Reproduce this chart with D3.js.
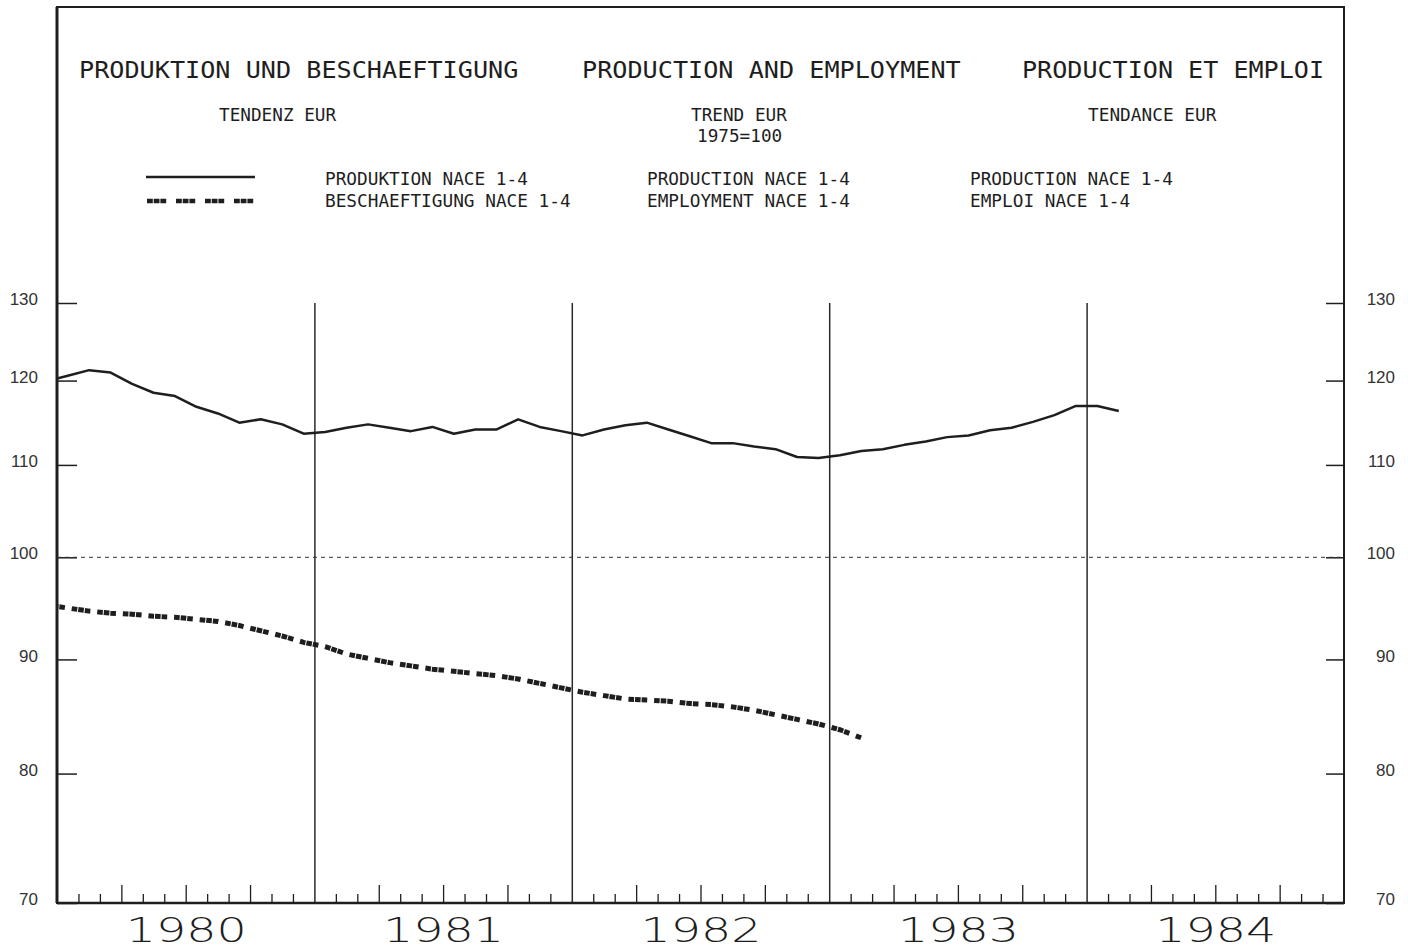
<!DOCTYPE html>
<html>
<head>
<meta charset="utf-8">
<script src="https://cdn.jsdelivr.net/npm/d3@7"></script>
<style>
    body { margin: 0; background: #fff; }
    svg { display: block; }
</style>
</head>
<body>
<div id="chart"></div>
<script>
// chart values (monthly trend, index 1975=100), first value = December 1979
const years = [1980, 1981, 1982, 1983, 1984];
const yTicks = [70, 80, 90, 100, 110, 120, 130];
const production = [
    119.9,
    120.6, 121.3, 121.0, 119.6, 118.5, 118.1, 116.8, 116.0, 114.9, 115.3, 114.7, 113.6,
    113.8, 114.3, 114.7, 114.3, 113.9, 114.4, 113.6, 114.1, 114.1, 115.3, 114.4, 113.9,
    113.4, 114.1, 114.6, 114.9, 114.1, 113.3, 112.5, 112.5, 112.1, 111.8, 110.9, 110.8,
    111.1, 111.6, 111.8, 112.3, 112.7, 113.2, 113.4, 114.0, 114.3, 115.0, 115.8, 116.9,
    116.9, 116.3
];
const employment = [
    95.2,
    94.9, 94.6, 94.4, 94.3, 94.1, 94.0, 93.8, 93.6, 93.2, 92.7, 92.2, 91.6,
    91.2, 90.5, 90.1, 89.7, 89.4, 89.1, 88.9, 88.7, 88.5, 88.2, 87.8, 87.4,
    87.0, 86.7, 86.4, 86.3, 86.2, 86.0, 85.9, 85.7, 85.4, 85.0, 84.6, 84.2,
    83.7, 83.0
];

// set dimensions
const width = 1408,
    height = 949,
    plot = { left: 57, right: 1344, top: 7, bottom: 903, gridTop: 303 };

const ink = "#1e1e1e";
const mono = "'DejaVu Sans Mono', monospace";
const sans = "'Liberation Sans', Arial, sans-serif";

// create svg
const svg = d3.select("#chart")
    .append("svg")
    .attr("width", width)
    .attr("height", height);

svg.append("rect")
    .attr("width", width)
    .attr("height", height)
    .attr("fill", "#fff");

// scales (log scale on the index axis)
const x = d3.scaleLinear()
    .domain([1980, 1985])
    .range([plot.left, plot.right]);

const y = d3.scaleLog()
    .domain([70, 130])
    .range([plot.bottom, plot.gridTop]);

// month i of a series (0 = Dec 1979), plotted mid-month
const monthPos = i => 1979 + (11 + i + 0.5) / 12;

// frame
svg.append("rect")
    .attr("x", plot.left)
    .attr("y", plot.top)
    .attr("width", plot.right - plot.left)
    .attr("height", plot.bottom - plot.top)
    .attr("fill", "none")
    .attr("stroke", ink)
    .attr("stroke-width", 2);

svg.append("line")
    .attr("x1", plot.left).attr("x2", plot.left)
    .attr("y1", plot.top).attr("y2", plot.bottom)
    .attr("stroke", ink)
    .attr("stroke-width", 3);

// text helper: monospace plotter lettering fitted to its width
function label(text, x0, y0, size, charW) {
    svg.append("text")
        .attr("x", x0)
        .attr("y", y0)
        .attr("font-family", mono)
        .attr("font-size", size)
        .attr("fill", ink)
        .attr("textLength", text.length * charW)
        .attr("lengthAdjust", "spacingAndGlyphs")
        .text(text);
}

// titles
label("PRODUKTION UND BESCHAEFTIGUNG", 79, 78, 23, 15.15);
label("PRODUCTION AND EMPLOYMENT", 582, 78, 23, 15.15);
label("PRODUCTION ET EMPLOI", 1022, 78, 23, 15.1);
label("TENDENZ EUR", 219, 121, 17, 10.65);
label("TREND EUR", 691, 121, 17, 10.65);
label("1975=100", 697, 142, 17, 10.65);
label("TENDANCE EUR", 1088, 121, 17, 10.7);

// legend
label("PRODUKTION NACE 1-4", 325, 185, 17, 10.68);
label("BESCHAEFTIGUNG NACE 1-4", 325, 207, 17, 10.68);
label("PRODUCTION NACE 1-4", 647, 185, 17, 10.68);
label("EMPLOYMENT NACE 1-4", 647, 207, 17, 10.68);
label("PRODUCTION NACE 1-4", 970, 185, 17, 10.68);
label("EMPLOI NACE 1-4", 970, 207, 17, 10.68);

svg.append("line")
    .attr("x1", 146).attr("x2", 255)
    .attr("y1", 177).attr("y2", 177)
    .attr("stroke", ink)
    .attr("stroke-width", 2.5);

svg.append("line")
    .attr("x1", 147).attr("x2", 255)
    .attr("y1", 201).attr("y2", 201)
    .attr("stroke", ink)
    .attr("stroke-width", 4.5)
    .attr("stroke-dasharray", "5.8,0.9,5.8,0.9,5.8,9.8");

// y axes
const yAxisLeft = d3.axisLeft(y)
    .tickValues(yTicks)
    .tickFormat(d3.format("d"))
    .tickSizeInner(-20)
    .tickSizeOuter(0)
    .tickPadding(19);

const gl = svg.append("g")
    .attr("transform", `translate(${plot.left},0)`)
    .call(yAxisLeft);

const yAxisRight = d3.axisRight(y)
    .tickValues(yTicks)
    .tickFormat(d3.format("d"))
    .tickSizeInner(-18)
    .tickSizeOuter(0)
    .tickPadding(51);

const gr = svg.append("g")
    .attr("transform", `translate(${plot.right},0)`)
    .call(yAxisRight);

[gl, gr].forEach(g => {
    g.select(".domain").remove();
    g.selectAll("line").attr("stroke", ink).attr("stroke-width", 1.5);
    g.selectAll("text")
        .attr("font-family", sans)
        .attr("font-size", 17)
        .attr("fill", "#333")
        .attr("dy", "0.1em");
});
gr.selectAll("text").attr("text-anchor", "end");

// 100 reference line
svg.append("line")
    .attr("x1", plot.left).attr("x2", plot.right)
    .attr("y1", y(100)).attr("y2", y(100))
    .attr("stroke", "#333")
    .attr("stroke-width", 1)
    .attr("stroke-dasharray", "4,4");

// year separators
const grid = d3.axisBottom(x)
    .tickValues(years.slice(1))
    .tickSize(-(plot.bottom - plot.gridTop))
    .tickFormat("");

svg.append("g")
    .attr("transform", `translate(0,${plot.bottom})`)
    .call(grid)
    .call(g => g.select(".domain").remove())
    .selectAll("line")
    .attr("stroke", "#2a2a2a")
    .attr("stroke-width", 1.5);

// monthly ticks on the time axis, quarters taller
const monthTicks = d3.range(1, 60)
    .filter(m => m % 12 !== 0)
    .map(m => 1980 + m / 12);

svg.append("g")
    .attr("transform", `translate(0,${plot.bottom})`)
    .call(d3.axisBottom(x).tickValues(monthTicks).tickSize(-9).tickFormat(""))
    .call(g => g.select(".domain").remove())
    .selectAll("line")
    .attr("stroke", ink)
    .attr("stroke-width", 1.3)
    .attr("y2", d => Math.round((d - 1980) * 12) % 3 === 0 ? -18 : -9);

svg.append("line")
    .attr("x1", plot.left).attr("x2", plot.right)
    .attr("y1", plot.bottom).attr("y2", plot.bottom)
    .attr("stroke", ink)
    .attr("stroke-width", 2.5);

// year labels
svg.append("g")
    .attr("transform", `translate(0,${plot.bottom})`)
    .call(d3.axisBottom(x)
        .tickValues(years.map(d => d + 0.5))
        .tickSize(0)
        .tickPadding(0)
        .tickFormat(d => Math.floor(d)))
    .call(g => g.select(".domain").remove())
    .selectAll("text")
    .attr("dy", null)
    .attr("y", 39)
    .attr("font-family", "'DejaVu Sans', sans-serif")
    .attr("font-weight", 200)
    .attr("font-size", 34)
    .attr("fill", ink)
    .attr("textLength", 121)
    .attr("lengthAdjust", "spacingAndGlyphs");

// clip series to plot area
svg.append("clipPath")
    .attr("id", "clip")
    .append("rect")
    .attr("x", plot.left)
    .attr("y", plot.top)
    .attr("width", plot.right - plot.left)
    .attr("height", plot.bottom - plot.top);

const line = d3.line()
    .x((d, i) => x(monthPos(i)))
    .y(d => y(d));

// production (solid)
svg.append("path")
    .datum(production)
    .attr("clip-path", "url(#clip)")
    .attr("fill", "none")
    .attr("stroke", ink)
    .attr("stroke-width", 2.5)
    .attr("stroke-linejoin", "round")
    .attr("d", line);

// employment (blocky dashes)
svg.append("path")
    .datum(employment)
    .attr("clip-path", "url(#clip)")
    .attr("fill", "none")
    .attr("stroke", ink)
    .attr("stroke-width", 5)
    .attr("stroke-dasharray", "5.6,1,5.6,1,5.6,6.9")
    .attr("d", line);
</script>
</body>
</html>
